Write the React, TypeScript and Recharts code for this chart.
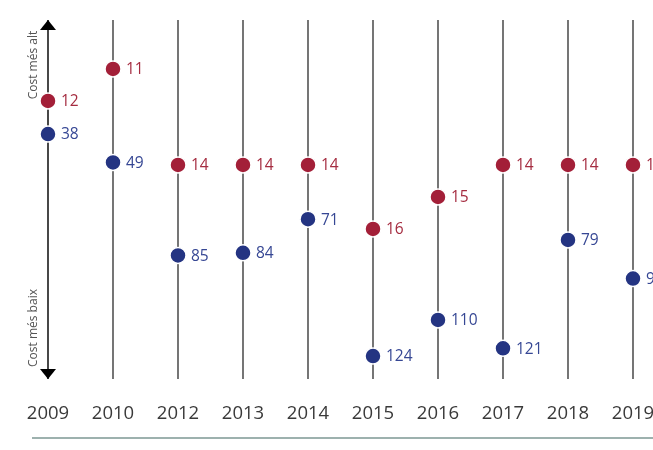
import { ComposedChart, Line, XAxis, YAxis, ReferenceLine, ReferenceDot, LabelList } from "recharts";

const years = ["2009", "2010", "2012", "2013", "2014", "2015", "2016", "2017", "2018", "2019"];
const redValues = [12, 11, 14, 14, 14, 16, 15, 14, 14, 14];
const blueValues = [38, 49, 85, 84, 71, 124, 110, 121, 79, 94];

const RED = "#a31f38";
const BLUE = "#243482";
const RED_DOMAIN: [number, number] = [9.47, 20.69];
const BLUE_DOMAIN: [number, number] = [-6.2, 132.9];

const data = years.map((year, i) => ({ year, red: redValues[i], blue: blueValues[i] }));

const FONT = "'Open Sans', sans-serif";

function makeLabel(color: string) {
  return (props: any) => {
    const { x, y, value } = props;
    return (
      <text x={x + 13} y={y} dy="0.35em" fill={color} fontSize={15.5} fontFamily={FONT}>
        {value}
      </text>
    );
  };
}

function Arrow(props: any) {
  const { cx, cy, dir } = props;
  const w = 8;
  const h = 10;
  const pts =
    dir === "up"
      ? `${cx - w},${cy + h} ${cx + w},${cy + h} ${cx},${cy}`
      : `${cx - w},${cy - h} ${cx + w},${cy - h} ${cx},${cy}`;
  return <polygon points={pts} fill="#000" />;
}

export default function App() {
  return (
    <div style={{ position: "fixed", left: 0, top: 0, width: 653, height: 450, overflow: "hidden", fontFamily: FONT }}>
      <div style={{ position: "absolute", left: 8, top: 8, width: 725, height: 434 }}>
        <ComposedChart width={725} height={421} data={data} margin={{ top: 12, left: 40, right: 100, bottom: 0 }}>
          <XAxis
            dataKey="year"
            type="category"
            axisLine={false}
            tickLine={false}
            tickSize={0}
            tickMargin={27}
            height={50}
            interval={0}
            tick={{ fill: "#3a3a3a", fontSize: 18.5, fontFamily: FONT }}
          />
          <YAxis yAxisId="red" hide reversed domain={RED_DOMAIN} allowDataOverflow />
          <YAxis yAxisId="blue" hide reversed domain={BLUE_DOMAIN} allowDataOverflow />
          {years.map((y) => (
            <ReferenceLine key={y} x={y} yAxisId="red" stroke="#1a1a1a" strokeWidth={y === "2009" ? 1.6 : 1.2} />
          ))}
          <ReferenceDot
            x="2009"
            y={RED_DOMAIN[0]}
            yAxisId="red"
            r={0}
            shape={(p: any) => <Arrow {...p} dir="up" />}
          />
          <ReferenceDot
            x="2009"
            y={RED_DOMAIN[1]}
            yAxisId="red"
            r={0}
            shape={(p: any) => <Arrow {...p} dir="down" />}
          />
          <Line
            yAxisId="red"
            dataKey="red"
            stroke="none"
            isAnimationActive={false}
            dot={{ r: 8, fill: RED, stroke: "#fff", strokeWidth: 1.5 }}
            activeDot={false}
          >
            <LabelList dataKey="red" content={makeLabel("#a52c40")} />
          </Line>
          <Line
            yAxisId="blue"
            dataKey="blue"
            stroke="none"
            isAnimationActive={false}
            dot={{ r: 8, fill: BLUE, stroke: "#fff", strokeWidth: 1.5 }}
            activeDot={false}
          >
            <LabelList dataKey="blue" content={makeLabel("#364794")} />
          </Line>
        </ComposedChart>
        <svg width={40} height={400} style={{ position: "absolute", left: 0, top: 0 }}>
          <text
            x={0}
            y={0}
            transform="translate(25,57) rotate(-90)"
            textAnchor="middle"
            dy="0.35em"
            fill="#555"
            fontSize={12}
            fontFamily={FONT}
          >
            Cost més alt
          </text>
          <text
            x={0}
            y={0}
            transform="translate(25,320) rotate(-90)"
            textAnchor="middle"
            dy="0.35em"
            fill="#555"
            fontSize={12}
            fontFamily={FONT}
          >
            Cost més baix
          </text>
        </svg>
        <div style={{ position: "absolute", left: 24, top: 429, width: 700, height: 2, background: "#9db1ae" }} />
      </div>
    </div>
  );
}
